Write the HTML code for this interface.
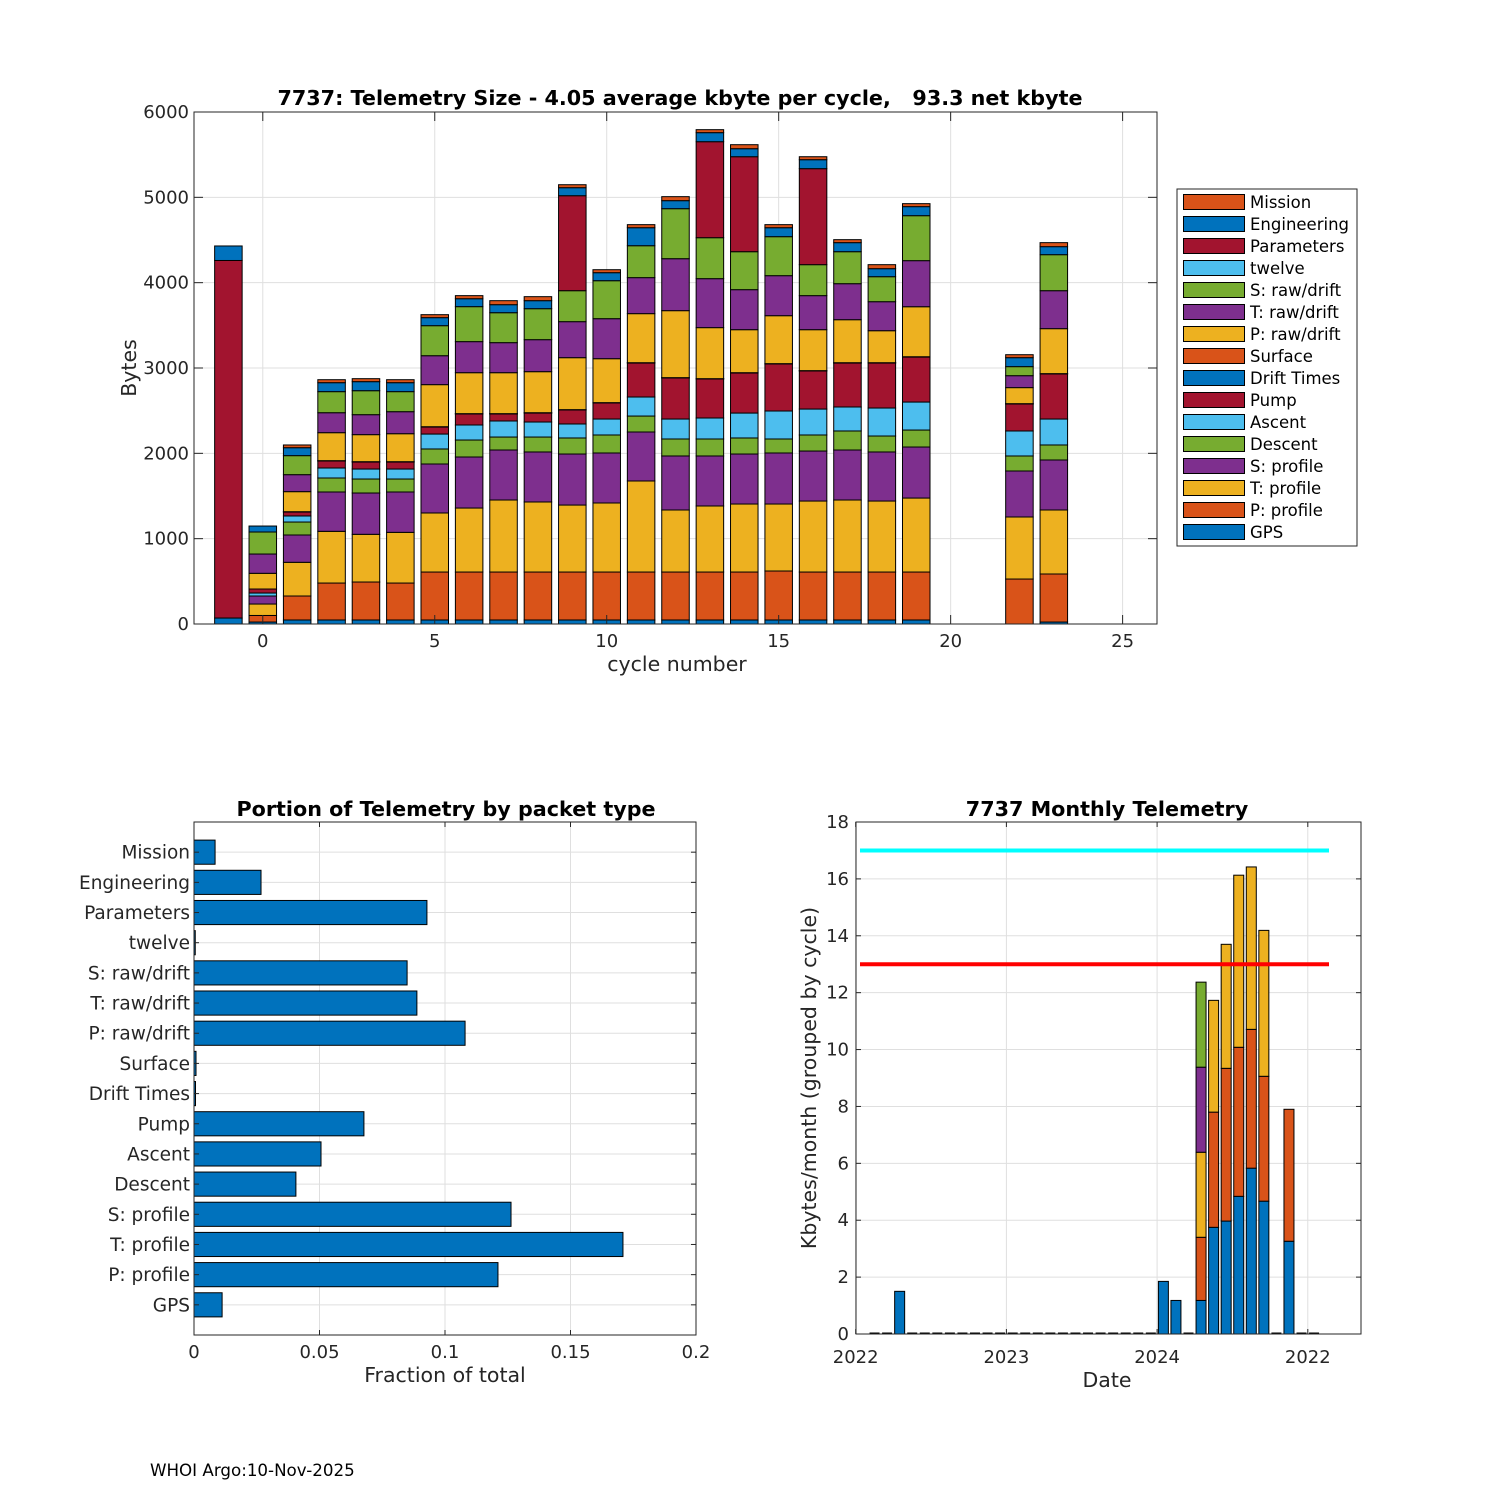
<!DOCTYPE html>
<html><head><meta charset="utf-8">
<style>
html,body{margin:0;padding:0;background:#fff;}
svg{display:block;font-family:"DejaVu Sans","Liberation Sans",sans-serif;}
</style></head>
<body>
<svg id="fig" width="1500" height="1500" viewBox="0 0 1500 1500" xmlns="http://www.w3.org/2000/svg">
<rect width="1500" height="1500" fill="#fff"/>
<g id="top"></g>
<g id="bl"></g>
<g id="br"></g>
<text x="150" y="1476" font-size="16.7" fill="#000">WHOI Argo:10-Nov-2025</text>
</svg>
<script>
// ---------- Top chart data ----------
const cycles = [-1,0,1,2,3,4,5,6,7,8,9,10,11,12,13,14,15,16,17,18,19,22,23];
const seriesNames = ["GPS","P: profile","T: profile","S: profile","Descent","Ascent","Pump","Drift Times","Surface","P: raw/drift","T: raw/drift","S: raw/drift","twelve","Parameters","Engineering","Mission"];
const gps      = [70,23,47,47,47,47,47,47,47,47,47,47,47,47,47,47,47,47,47,47,47,0,23];
const pProfile = [0,77,281,433,445,433,562,562,562,562,562,562,562,562,562,562,574,562,562,562,562,527,563];
const tProfile = [0,134,395,606,559,594,692,750,844,821,785,809,1067,727,774,797,785,832,844,832,867,727,750];
const sProfile = [0,94,320,461,484,473,574,598,586,586,598,586,574,633,586,586,598,586,586,575,598,539,586];
const descent  = [0,0,152,164,164,152,176,199,152,175,188,211,187,199,199,188,164,188,223,187,199,176,176];
const ascent   = [0,35,71,117,117,117,175,176,188,176,164,187,223,234,246,292,328,304,281,328,328,293,304];
const pump     = [0,47,46,82,82,82,82,129,82,105,164,188,398,481,457,469,551,446,515,527,527,316,528];
const drift    = [0,0,2,2,2,2,2,2,2,2,2,2,2,2,2,2,2,2,2,2,2,2,2];
const surface  = [0,0,2,2,2,2,2,2,2,2,2,2,2,2,2,2,2,2,2,2,2,2,2];
const pRaw     = [0,184,235,328,317,328,493,480,480,481,609,515,575,785,598,504,562,480,504,375,586,188,527];
const tRaw     = [0,226,199,234,234,258,339,364,352,375,422,469,422,609,574,469,469,399,422,340,540,140,445];
const sRaw     = [0,258,223,247,281,235,352,410,351,363,363,445,374,586,480,445,457,363,375,293,527,106,422];
const twelve   = [0,0,0,0,0,0,0,0,0,0,0,0,0,0,0,0,0,0,0,0,0,0,0];
const params   = [4190,0,0,0,0,0,0,0,0,0,1113,0,0,0,1125,1113,0,1125,0,0,0,0,0];
const engineering = [170,70,93,105,106,105,94,93,94,94,94,94,211,94,106,94,105,105,106,94,106,105,94];
const mission  = [0,0,32,35,35,35,35,36,47,47,35,35,36,47,35,47,36,35,35,47,35,35,47];
const topYTicks = [0,1000,2000,3000,4000,5000,6000];
const topXTicks = [0,5,10,15,20,25];

// ---------- Bottom-left data ----------
const packetTypes = ["GPS","P: profile","T: profile","S: profile","Descent","Ascent","Pump","Drift Times","Surface","P: raw/drift","T: raw/drift","S: raw/drift","twelve","Parameters","Engineering","Mission"];
const fractions = [0.0112,0.1211,0.1709,0.1263,0.0406,0.0506,0.0677,0.0006,0.0008,0.1080,0.0888,0.0849,0.0005,0.0928,0.0267,0.0084];
const fracTicks = [0,0.05,0.1,0.15,0.2];
const fracTickLabels = ["0","0.05","0.1","0.15","0.2"];

// ---------- Bottom-right data ----------
const monthIdx = [1,2,3,4,5,6,7,8,9,10,11,12,13,14,15,16,17,18,19,20,21,22,23,24,25,26,27,28,29,30,31,32,33,34,35,36];
const mSeries1 = [0,0,1.50,0,0,0,0,0,0,0,0,0,0,0,0,0,0,0,0,0,0,0,0,1.85,1.18,0,1.18,3.75,3.97,4.84,5.83,4.67,0,3.26,0,0];
const mSeries2 = [0,0,0,0,0,0,0,0,0,0,0,0,0,0,0,0,0,0,0,0,0,0,0,0,0,0,2.22,4.05,5.37,5.24,4.88,4.39,0,4.64,0,0];
const mSeries3 = [0,0,0,0,0,0,0,0,0,0,0,0,0,0,0,0,0,0,0,0,0,0,0,0,0,0,2.99,3.93,4.36,6.05,5.71,5.13,0,0,0,0];
const mSeries4 = [0,0,0,0,0,0,0,0,0,0,0,0,0,0,0,0,0,0,0,0,0,0,0,0,0,0,2.99,0,0,0,0,0,0,0,0,0];
const mSeries5 = [0,0,0,0,0,0,0,0,0,0,0,0,0,0,0,0,0,0,0,0,0,0,0,0,0,0,2.99,0,0,0,0,0,0,0,0,0];
const limitHigh = 17;
const limitLow = 13;
const monthYTicks = [0,2,4,6,8,10,12,14,16,18];
const yearTicks = [0,12,24,36];
const yearTickLabels = ["2022","2023","2024","2022"];

const NS = "http://www.w3.org/2000/svg";
const colors = ["#0072BD","#D95319","#EDB120","#7E2F8E","#77AC30","#4DBEEE","#A2142F"];
const AX = "#262626", GRID = "#dfdfdf";
const FS = 18, TFS = 20.7, LFS = 20.5;
function mk(parent, tag, attrs, text){
  const e = document.createElementNS(NS, tag);
  for (const k in attrs) e.setAttribute(k, attrs[k]);
  if (text !== undefined) e.textContent = text;
  parent.appendChild(e);
  return e;
}

// ================= TOP CHART =================
(function(){
  const g = document.getElementById('top');
  const L=194,R=1157,T=112,B=624;
  const xs = v => L + (v+2)/28*(R-L);
  const ys = v => B - v/6000*(B-T);
  const stack = [gps,pProfile,tProfile,sProfile,descent,ascent,pump,drift,surface,pRaw,tRaw,sRaw,twelve,params,engineering,mission];
  topXTicks.forEach(t=>{ const l=mk(g,'line',{x1:xs(t),x2:xs(t),y1:T,y2:B,stroke:GRID,'stroke-width':1});
      });
  topYTicks.forEach(t=>{ const l=mk(g,'line',{x1:L,x2:R,y1:ys(t),y2:ys(t),stroke:GRID,'stroke-width':1});
      });
  const bw = 0.8/28*(R-L);
  cycles.forEach((c,i)=>{
    let base=0;
    stack.forEach((s,k)=>{
      const v=s[i]; if(!(v>0)) return;
      const r=mk(g,'rect',{x:xs(c)-bw/2,y:ys(base+v),width:bw,height:ys(base)-ys(base+v),fill:colors[k%7],stroke:'#000','stroke-width':1});
      
      
      base+=v;
    });
  });
  const box=mk(g,'rect',{x:L,y:T,width:R-L,height:B-T,fill:'none',stroke:AX,'stroke-width':1});
   
  topXTicks.forEach(t=>{
    mk(g,'line',{x1:xs(t),x2:xs(t),y1:B,y2:B-9,stroke:AX});
    mk(g,'line',{x1:xs(t),x2:xs(t),y1:T,y2:T+9,stroke:AX});
    const tx=mk(g,'text',{x:xs(t),y:B+23,'font-size':FS,'text-anchor':'middle',fill:AX},String(t));
     
  });
  topYTicks.forEach(t=>{
    mk(g,'line',{x1:L,x2:L+9,y1:ys(t),y2:ys(t),stroke:AX});
    mk(g,'line',{x1:R,x2:R-9,y1:ys(t),y2:ys(t),stroke:AX});
    const tx=mk(g,'text',{x:L-5,y:ys(t)+6,'font-size':FS,'text-anchor':'end',fill:AX},String(t));
     
  });
  const tt=mk(g,'text',{x:680,y:105,'font-size':TFS,'font-weight':'bold','text-anchor':'middle',fill:'#000',style:'white-space:pre'},'7737: Telemetry Size - 4.05 average kbyte per cycle,   93.3 net kbyte');
   
  const xl=mk(g,'text',{x:677,y:671,'font-size':LFS,'text-anchor':'middle',fill:AX},'cycle number');
   
  const yl=mk(g,'text',{x:0,y:0,'font-size':LFS,'text-anchor':'middle',fill:AX,transform:'translate(136,368) rotate(-90)'},'Bytes');
   
  const lg=mk(g,'g',{});
   
  mk(lg,'rect',{x:1177,y:189,width:180,height:357,fill:'#fff',stroke:AX,'stroke-width':1});
  for(let k=15;k>=0;k--){
    const y=202+(15-k)*22;
    const e=mk(lg,'g',{});
     
    mk(e,'rect',{x:1183.5,y:y-7.5,width:61,height:15,fill:colors[k%7],stroke:'#000','stroke-width':1});
    mk(e,'text',{x:1250,y:y+6,'font-size':16.5,fill:'#000'},seriesNames[k]);
  }
})();

// ================= BOTTOM LEFT =================
(function(){
  const g=document.getElementById('bl');
  const L=194,R=696,T=822,B=1335;
  const xs=v=>L+v/0.2*(R-L);
  const ys=v=>B-v/17*(B-T);
  fracTicks.forEach(t=>{ const l=mk(g,'line',{x1:xs(t),x2:xs(t),y1:T,y2:B,stroke:GRID});
      });
  packetTypes.forEach((p,i)=>{ const l=mk(g,'line',{x1:L,x2:R,y1:ys(i+1),y2:ys(i+1),stroke:GRID});
      });
  const bh=0.8/17*(B-T);
  packetTypes.forEach((p,i)=>{
    const r=mk(g,'rect',{x:xs(0),y:ys(i+1)-bh/2,width:Math.max(xs(fractions[i])-xs(0),0.5),height:bh,fill:'#0072BD',stroke:'#000','stroke-width':1});
    
    
    mk(g,'line',{x1:L,x2:L+5,y1:ys(i+1),y2:ys(i+1),stroke:AX});
    mk(g,'line',{x1:R,x2:R-5,y1:ys(i+1),y2:ys(i+1),stroke:AX});
    const tx=mk(g,'text',{x:L-4,y:ys(i+1)+6.5,'font-size':18.5,'text-anchor':'end',fill:AX},p);
     
  });
  const box=mk(g,'rect',{x:L,y:T,width:R-L,height:B-T,fill:'none',stroke:AX});
   
  fracTicks.forEach((t,i)=>{
    mk(g,'line',{x1:xs(t),x2:xs(t),y1:B,y2:B-5,stroke:AX});
    mk(g,'line',{x1:xs(t),x2:xs(t),y1:T,y2:T+5,stroke:AX});
    const tx=mk(g,'text',{x:xs(t),y:B+23,'font-size':FS,'text-anchor':'middle',fill:AX},fracTickLabels[i]);
     
  });
  const tt=mk(g,'text',{x:446,y:816,'font-size':TFS,'font-weight':'bold','text-anchor':'middle',fill:'#000'},'Portion of Telemetry by packet type');
   
  const xl=mk(g,'text',{x:445,y:1382,'font-size':LFS,'text-anchor':'middle',fill:AX},'Fraction of total');
   
})();

// ================= BOTTOM RIGHT =================
(function(){
  const g=document.getElementById('br');
  const L=856,R=1361,T=822,B=1334;
  const xs=m=>855.7+m*150.7/12;
  const ys=v=>B-v/18*(B-T);
  yearTicks.forEach(t=>{ const l=mk(g,'line',{x1:xs(t),x2:xs(t),y1:T,y2:B,stroke:GRID});
      });
  monthYTicks.forEach(t=>{ const l=mk(g,'line',{x1:L,x2:R,y1:ys(t),y2:ys(t),stroke:GRID});
      });
  const ms=[mSeries1,mSeries2,mSeries3,mSeries4,mSeries5];
  const bw=10;
  monthIdx.forEach((m,i)=>{
    const cx=xs(m+0.5);
    let base=0, any=false;
    ms.forEach((s,k)=>{
      const v=s[i]; if(!(v>0)) return; any=true;
      const r=mk(g,'rect',{x:cx-bw/2,y:ys(base+v),width:bw,height:ys(base)-ys(base+v),fill:colors[k],stroke:'#000','stroke-width':1});
      
      
      base+=v;
    });
    if(!any){
      const l=mk(g,'line',{x1:cx-bw/2,x2:cx+bw/2,y1:B-0.5,y2:B-0.5,stroke:'#000','stroke-width':2});
       
    }
  });
  const c=mk(g,'line',{x1:860,x2:1329,y1:ys(limitHigh),y2:ys(limitHigh),stroke:'#00FFFF','stroke-width':4});
   
  const r=mk(g,'line',{x1:860,x2:1329,y1:ys(limitLow),y2:ys(limitLow),stroke:'#FF0000','stroke-width':4});
   
  const box=mk(g,'rect',{x:L,y:T,width:R-L,height:B-T,fill:'none',stroke:AX});
   
  yearTicks.forEach((t,i)=>{
    mk(g,'line',{x1:xs(t),x2:xs(t),y1:B,y2:B-5,stroke:AX});
    mk(g,'line',{x1:xs(t),x2:xs(t),y1:T,y2:T+5,stroke:AX});
    const tx=mk(g,'text',{x:xs(t),y:B+29,'font-size':FS,'text-anchor':'middle',fill:AX},yearTickLabels[i]);
     
  });
  monthYTicks.forEach(t=>{
    mk(g,'line',{x1:L,x2:L+5,y1:ys(t),y2:ys(t),stroke:AX});
    mk(g,'line',{x1:R,x2:R-5,y1:ys(t),y2:ys(t),stroke:AX});
    const tx=mk(g,'text',{x:L-7,y:ys(t)+6,'font-size':FS,'text-anchor':'end',fill:AX},String(t));
     
  });
  const tt=mk(g,'text',{x:1107,y:816,'font-size':TFS,'font-weight':'bold','text-anchor':'middle',fill:'#000'},'7737 Monthly Telemetry');
   
  const xl=mk(g,'text',{x:1107,y:1387,'font-size':LFS,'text-anchor':'middle',fill:AX},'Date');
   
  const yl=mk(g,'text',{x:0,y:0,'font-size':LFS,'text-anchor':'middle',fill:AX,transform:'translate(816,1078) rotate(-90)'},'Kbytes/month (grouped by cycle)');
   
})();
</script>
</body></html>
